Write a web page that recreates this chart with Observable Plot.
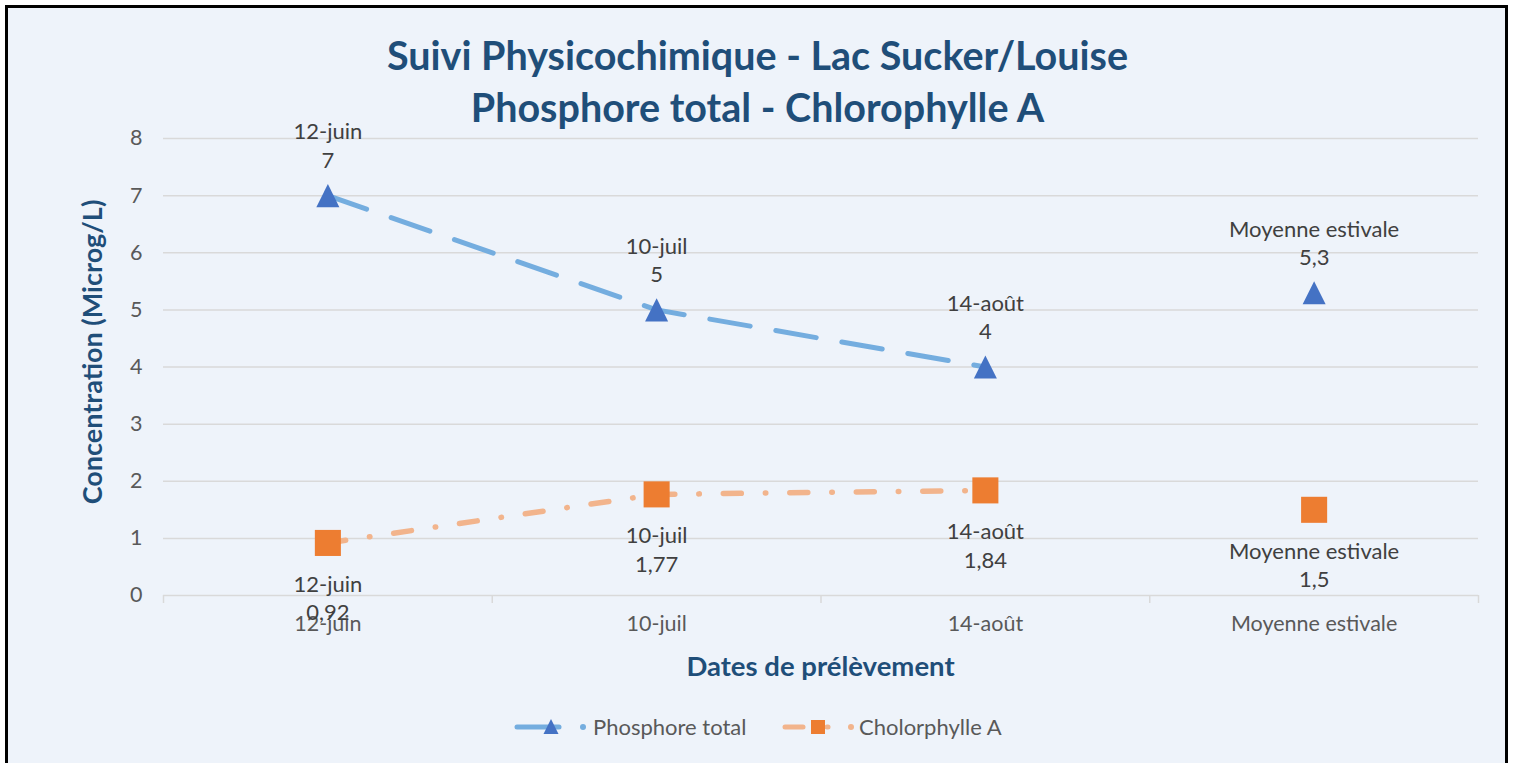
<!DOCTYPE html>
<html>
<head>
<meta charset="utf-8">
<script src="https://cdn.jsdelivr.net/npm/d3@7"></script>
<script src="https://cdn.jsdelivr.net/npm/@observablehq/plot@0.6"></script>
<style>
  html, body { margin: 0; padding: 0; width: 1515px; height: 763px; overflow: hidden; background: #ffffff; }
  #frame { position: absolute; left: 5px; top: 5px; width: 1497px; height: 770px; border: 3px solid #000; background: #EEF3FA; }
  #chart { position: absolute; left: 0; top: 0; }
  .ttl { position: absolute; left: 0; width: 1515px; text-align: center; font-family: Lato, "Open Sans", sans-serif; font-weight: bold; color: #1F4E79; white-space: nowrap; }
  #title { top: 29px; font-size: 39.5px; line-height: 52px; }
  #xtitle { top: 650px; left: 163px; width: 1315px; font-size: 27.5px; line-height: 32px; }
  #ytitle { top: 336px; left: 92px; width: 400px; margin-left: -200px; font-size: 27px; line-height: 32px; transform: rotate(-90deg); }
  #legend { position: absolute; left: 0; top: 712px; width: 1515px; height: 30px; }
</style>
</head>
<body>
<div id="frame"></div>
<div id="chart"></div>
<div id="title" class="ttl"></div>
<div id="xtitle" class="ttl"></div>
<div id="ytitle" class="ttl"></div>
<div id="legend"></div>
<script>
// ---- data ----
const categories = ["12-juin", "10-juil", "14-août", "Moyenne estivale"];
const phosphore = [7, 5, 4, 5.3];
const chlorophylle = [0.92, 1.77, 1.84, 1.5];
const seriesNames = ["Phosphore total", "Cholorphylle A"];
const yTicks = [0, 1, 2, 3, 4, 5, 6, 7, 8];
const titleLines = ["Suivi Physicochimique - Lac Sucker/Louise", "Phosphore total - Chlorophylle A"];
const xTitle = "Dates de prélèvement";
const yTitle = "Concentration (Microg/L)";
const connectedCount = 3; // the three sampling dates are joined; the summer mean is not

// ---- styles ----
const blueLine = "#74ADDF", blueMark = "#4472C4";
const orangeLine = "#F2B48C", orangeMark = "#ED7D31";
const font = 'Lato, "Open Sans", sans-serif';

const P = categories.map((c, i) => ({i, cat: c, v: phosphore[i]}));
const C = categories.map((c, i) => ({i, cat: c, v: chlorophylle[i]}));
const fmt = v => String(v).replace(".", ",");
const bounds = d3.range(categories.length + 1).map(k => k - 0.5);

// triangle centred on its bounding box (Excel style)
const triangle = {
  draw(ctx, size) {
    const w = Math.sqrt(size);
    ctx.moveTo(0, -w / 2);
    ctx.lineTo(w / 2, w / 2);
    ctx.lineTo(-w / 2, w / 2);
    ctx.closePath();
  }
};

const chart = Plot.plot({
  width: 1515,
  height: 763,
  marginLeft: 163,
  marginRight: 37,
  marginTop: 138,
  marginBottom: 168,
  style: {background: "transparent", fontFamily: font, fontSize: "21.5px", color: "#595959"},
  x: {type: "linear", domain: [-0.5, categories.length - 0.5]},
  y: {domain: [0, 8]},
  marks: [
    Plot.gridY(yTicks.slice(1), {stroke: "#D9D9D9", strokeOpacity: 1, strokeWidth: 1.5}),
    Plot.ruleY([0], {stroke: "#D9D9D9", strokeWidth: 1.5}),
    Plot.axisY(yTicks, {tickSize: 0, tickPadding: 21, label: null, tickFormat: d => String(d)}),
    Plot.axisX(bounds, {tickSize: 8, stroke: "#D9D9D9", strokeWidth: 1.5, tickFormat: () => "", label: null}),
    Plot.axisX(d3.range(categories.length), {tickSize: 0, tickPadding: 20, tickFormat: i => categories[i], label: null}),
    Plot.line(P.slice(0, connectedCount), {x: "i", y: "v", stroke: blueLine, strokeWidth: 5, strokeDasharray: "41,26", strokeLinecap: "round"}),
    Plot.line(C.slice(0, connectedCount), {x: "i", y: "v", stroke: orangeLine, strokeWidth: 5.5, strokeDasharray: "18,24,0.5,24", strokeLinecap: "round"}),
    Plot.dot(P, {x: "i", y: "v", symbol: triangle, r: 13, fill: blueMark, stroke: null}),
    Plot.dot(C, {x: "i", y: "v", symbol: "square", r: 14.7, fill: orangeMark, stroke: null}),
    Plot.text(P, {x: "i", y: "v", text: d => `${d.cat}\n${fmt(d.v)}`, dy: -51, lineAnchor: "middle", lineHeight: 1.3, fill: "#404040", fontSize: 22}),
    Plot.text(C, {x: "i", y: "v", text: d => `${d.cat}\n${fmt(d.v)}`, dy: 54, lineAnchor: "middle", lineHeight: 1.3, fill: "#404040", fontSize: 22})
  ]
});
document.getElementById("chart").appendChild(chart);

document.getElementById("title").innerHTML = titleLines.join("<br>");
document.getElementById("xtitle").textContent = xTitle;
document.getElementById("ytitle").textContent = yTitle;

// legend
const lg = document.getElementById("legend");
lg.innerHTML = `
<svg width="1515" height="30" style="position:absolute;left:0;top:0;overflow:visible">
  <line x1="517" y1="15" x2="559" y2="15" stroke="${blueLine}" stroke-width="5" stroke-linecap="round"/>
  <path d="M551,7 L558.5,22 L543.5,22 Z" fill="${blueMark}"/>
  <circle cx="583" cy="15" r="3" fill="${blueLine}"/>
  <text x="593" y="22.5" font-family='${font}' font-size="22" fill="#595959">${seriesNames[0]}</text>
  <line x1="785" y1="15" x2="803" y2="15" stroke="${orangeLine}" stroke-width="5" stroke-linecap="round"/>
  <line x1="827" y1="15" x2="828" y2="15" stroke="${orangeLine}" stroke-width="5" stroke-linecap="round"/>
  <rect x="811" y="8" width="14" height="14" fill="${orangeMark}"/>
  <circle cx="851" cy="15" r="3" fill="${orangeLine}"/>
  <text x="859" y="22.5" font-family='${font}' font-size="22" fill="#595959">${seriesNames[1]}</text>
</svg>`;
</script>
</body>
</html>
